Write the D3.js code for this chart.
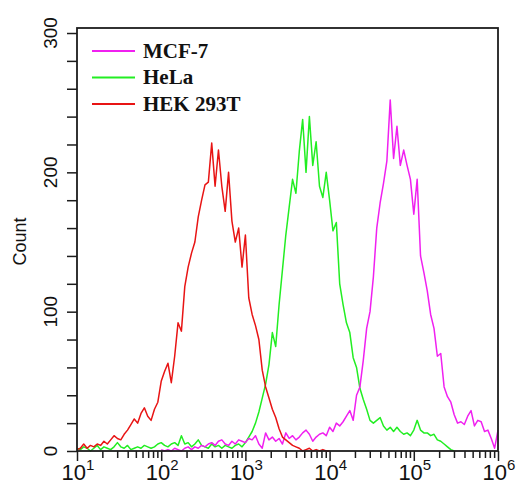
<!DOCTYPE html>
<html>
<head>
<meta charset="utf-8">
<script src="https://cdn.jsdelivr.net/npm/d3@7"></script>
<style>
  html, body { margin: 0; padding: 0; background: #fff; }
  svg { display: block; }
</style>
</head>
<body>
<div id="chart"></div>
<script>
// Histogram channels: log10 fluorescence, fixed bin width
const channelStep = 0.04;

// Cell-line names, colours and first channel (log10) of each histogram
const seriesNames = ["MCF-7", "HeLa", "HEK 293T"];
const seriesColors = ["#f020f0", "#22ee22", "#e81414"];
const seriesStart = [2.0, 1.0, 1.0];

// Event counts per channel
const countsMCF7 = [
  1, 0, 1, 0, 2, 1, 0, 2, 3, 1,
  3, 2, 4, 3, 5, 6, 4, 7, 8, 5,
  4, 7, 5, 8, 7, 6, 9, 8, 11, 5,
  2, 13, 8, 10, 7, 9, 5, 13, 9, 11,
  8, 10, 13, 15, 12, 7, 10, 12, 13, 11,
  17, 14, 20, 18, 21, 25, 29, 22, 40, 46,
  65, 88, 100, 125, 160, 178, 192, 208, 252, 210,
  233, 205, 216, 205, 195, 170, 195, 140, 128, 115,
  98, 88, 68, 70, 46, 39, 35, 26, 20, 21,
  19, 25, 29, 18, 22, 21, 14, 15, 9, 2, 15
];
const countsHeLa = [
  2, 1, 3, 2, 0, 2, 4, 1, 3, 2,
  1, 3, 6, 3, 2, 4, 1, 2, 3, 2,
  4, 3, 2, 3, 5, 6, 4, 3, 5, 6,
  4, 11, 5, 6, 3, 5, 8, 4, 3, 2,
  5, 3, 4, 2, 4, 3, 2, 4, 5, 3,
  6, 10, 14, 20, 28, 38, 48, 62, 85, 75,
  105, 130, 155, 175, 195, 185, 215, 238, 200, 240,
  205, 222, 190, 182, 200, 180, 158, 164, 120, 105,
  92, 85, 67, 60, 45, 37, 30, 22, 20, 22,
  24, 18, 15, 17, 14, 17, 14, 12, 13, 11,
  15, 22, 15, 13, 13, 11, 12, 8, 7, 5,
  3, 1, 0
];
const countsHEK = [
  1, 2, 5, 2, 4, 3, 5, 4, 7, 5,
  8, 11, 9, 8, 12, 15, 19, 23, 20, 27,
  31, 25, 22, 30, 35, 50, 57, 63, 49, 68,
  92, 86, 118, 132, 142, 150, 168, 180, 191, 193,
  221, 190, 216, 190, 172, 200, 165, 150, 160, 132,
  155, 110, 98, 90, 80, 58, 46, 38, 30, 24,
  16, 10, 8, 6, 4, 3, 2, 0, 1, 2,
  0, 1, 0, 1, 0, 0
];
const seriesCounts = [countsMCF7, countsHeLa, countsHEK];

// Axis ticks
const xMajorTicks = [1e1, 1e2, 1e3, 1e4, 1e5, 1e6];
const xExponents = ["1", "2", "3", "4", "5", "6"];
const yTicks = [0, 20, 40, 60, 80, 100, 120, 140, 160, 180, 200, 220, 240, 260, 280, 300];
const yLabelTicks = [0, 100, 200, 300];
const yTitle = "Count";

const W = 520, H = 491;
const plot = { left: 77, right: 498, top: 28, bottom: 451 };

const svg = d3.select("#chart").append("svg")
  .attr("width", W).attr("height", H)
  .style("background", "#fff");

const x = d3.scaleLog().domain([1e1, 1e6]).range([plot.left, plot.right]);
const y = d3.scaleLinear().domain([0, 303.6]).range([plot.bottom, plot.top]);

const axisColor = "#1c1c1c";

// Minor decade ticks 2..9
const xMinorTicks = [];
xMajorTicks.slice(0, -1).forEach(d => {
  for (let k = 2; k <= 9; k++) xMinorTicks.push(d * k);
});

const gMinor = svg.append("g")
  .attr("transform", `translate(0,${plot.bottom})`)
  .call(d3.axisBottom(x).tickValues(xMinorTicks).tickSize(7).tickFormat(""));
gMinor.select(".domain").remove();

const gMajor = svg.append("g")
  .attr("transform", `translate(0,${plot.bottom})`)
  .call(d3.axisBottom(x).tickValues(xMajorTicks).tickSize(10).tickFormat(""));
gMajor.select(".domain").remove();

svg.selectAll(".tick line")
  .attr("stroke", axisColor).attr("stroke-width", 1.5);

// Decade labels as 10 with a superscript exponent
const xLabels = svg.append("g");
xMajorTicks.forEach((d, i) => {
  const t = xLabels.append("text")
    .attr("x", x(d) + 1)
    .attr("y", 480)
    .attr("text-anchor", "middle")
    .attr("font-family", "'Liberation Sans', Arial, sans-serif")
    .attr("font-size", 22)
    .attr("fill", "#111");
  t.append("tspan").text("10");
  t.append("tspan").attr("font-size", 15).attr("dy", -10).text(xExponents[i]);
});

// Y axis
const gY = svg.append("g")
  .attr("transform", `translate(${plot.left},0)`)
  .call(d3.axisLeft(y).tickValues(yTicks).tickSize(10).tickFormat(""));
gY.select(".domain").remove();
gY.selectAll(".tick line").attr("stroke", axisColor).attr("stroke-width", 1.5);

svg.append("g").selectAll("text")
  .data(yLabelTicks)
  .join("text")
  .attr("transform", d => `translate(57,${y(d)}) rotate(-90)`)
  .attr("text-anchor", "middle")
  .attr("font-family", "'Liberation Sans', Arial, sans-serif")
  .attr("font-size", 19)
  .attr("fill", "#111")
  .text(d => d);

svg.append("text")
  .attr("transform", `translate(26,${(plot.top + plot.bottom) / 2 + 2}) rotate(-90)`)
  .attr("text-anchor", "middle")
  .attr("font-family", "'Liberation Sans', Arial, sans-serif")
  .attr("font-size", 18)
  .attr("fill", "#111")
  .text(yTitle);

// Histogram traces
const line = d3.line()
  .x(d => x(d.v))
  .y(d => y(d.c));

const drawOrder = [1, 0, 2];
const gLines = svg.append("g");
drawOrder.forEach(s => {
  const pts = seriesCounts[s].map((c, i) => ({
    v: Math.pow(10, seriesStart[s] + i * channelStep),
    c
  }));
  gLines.append("path")
    .datum(pts)
    .attr("fill", "none")
    .attr("stroke", seriesColors[s])
    .attr("stroke-width", 1.5)
    .attr("stroke-linejoin", "round")
    .attr("d", line);
});

// Plot frame
svg.append("rect")
  .attr("x", plot.left).attr("y", plot.top)
  .attr("width", plot.right - plot.left)
  .attr("height", plot.bottom - plot.top)
  .attr("fill", "none")
  .attr("stroke", axisColor)
  .attr("stroke-width", 1.8);

// Legend
const legend = svg.append("g");
seriesNames.forEach((name, i) => {
  const ly = 51 + i * 26.5;
  legend.append("line")
    .attr("x1", 92).attr("x2", 135)
    .attr("y1", ly).attr("y2", ly)
    .attr("stroke", seriesColors[i])
    .attr("stroke-width", 2.2);
  legend.append("text")
    .attr("x", 143).attr("y", ly + 6.5)
    .attr("font-family", "'Liberation Serif', 'Times New Roman', serif")
    .attr("font-weight", "bold")
    .attr("font-size", 21)
    .attr("fill", "#111")
    .text(name);
});
</script>
</body>
</html>
